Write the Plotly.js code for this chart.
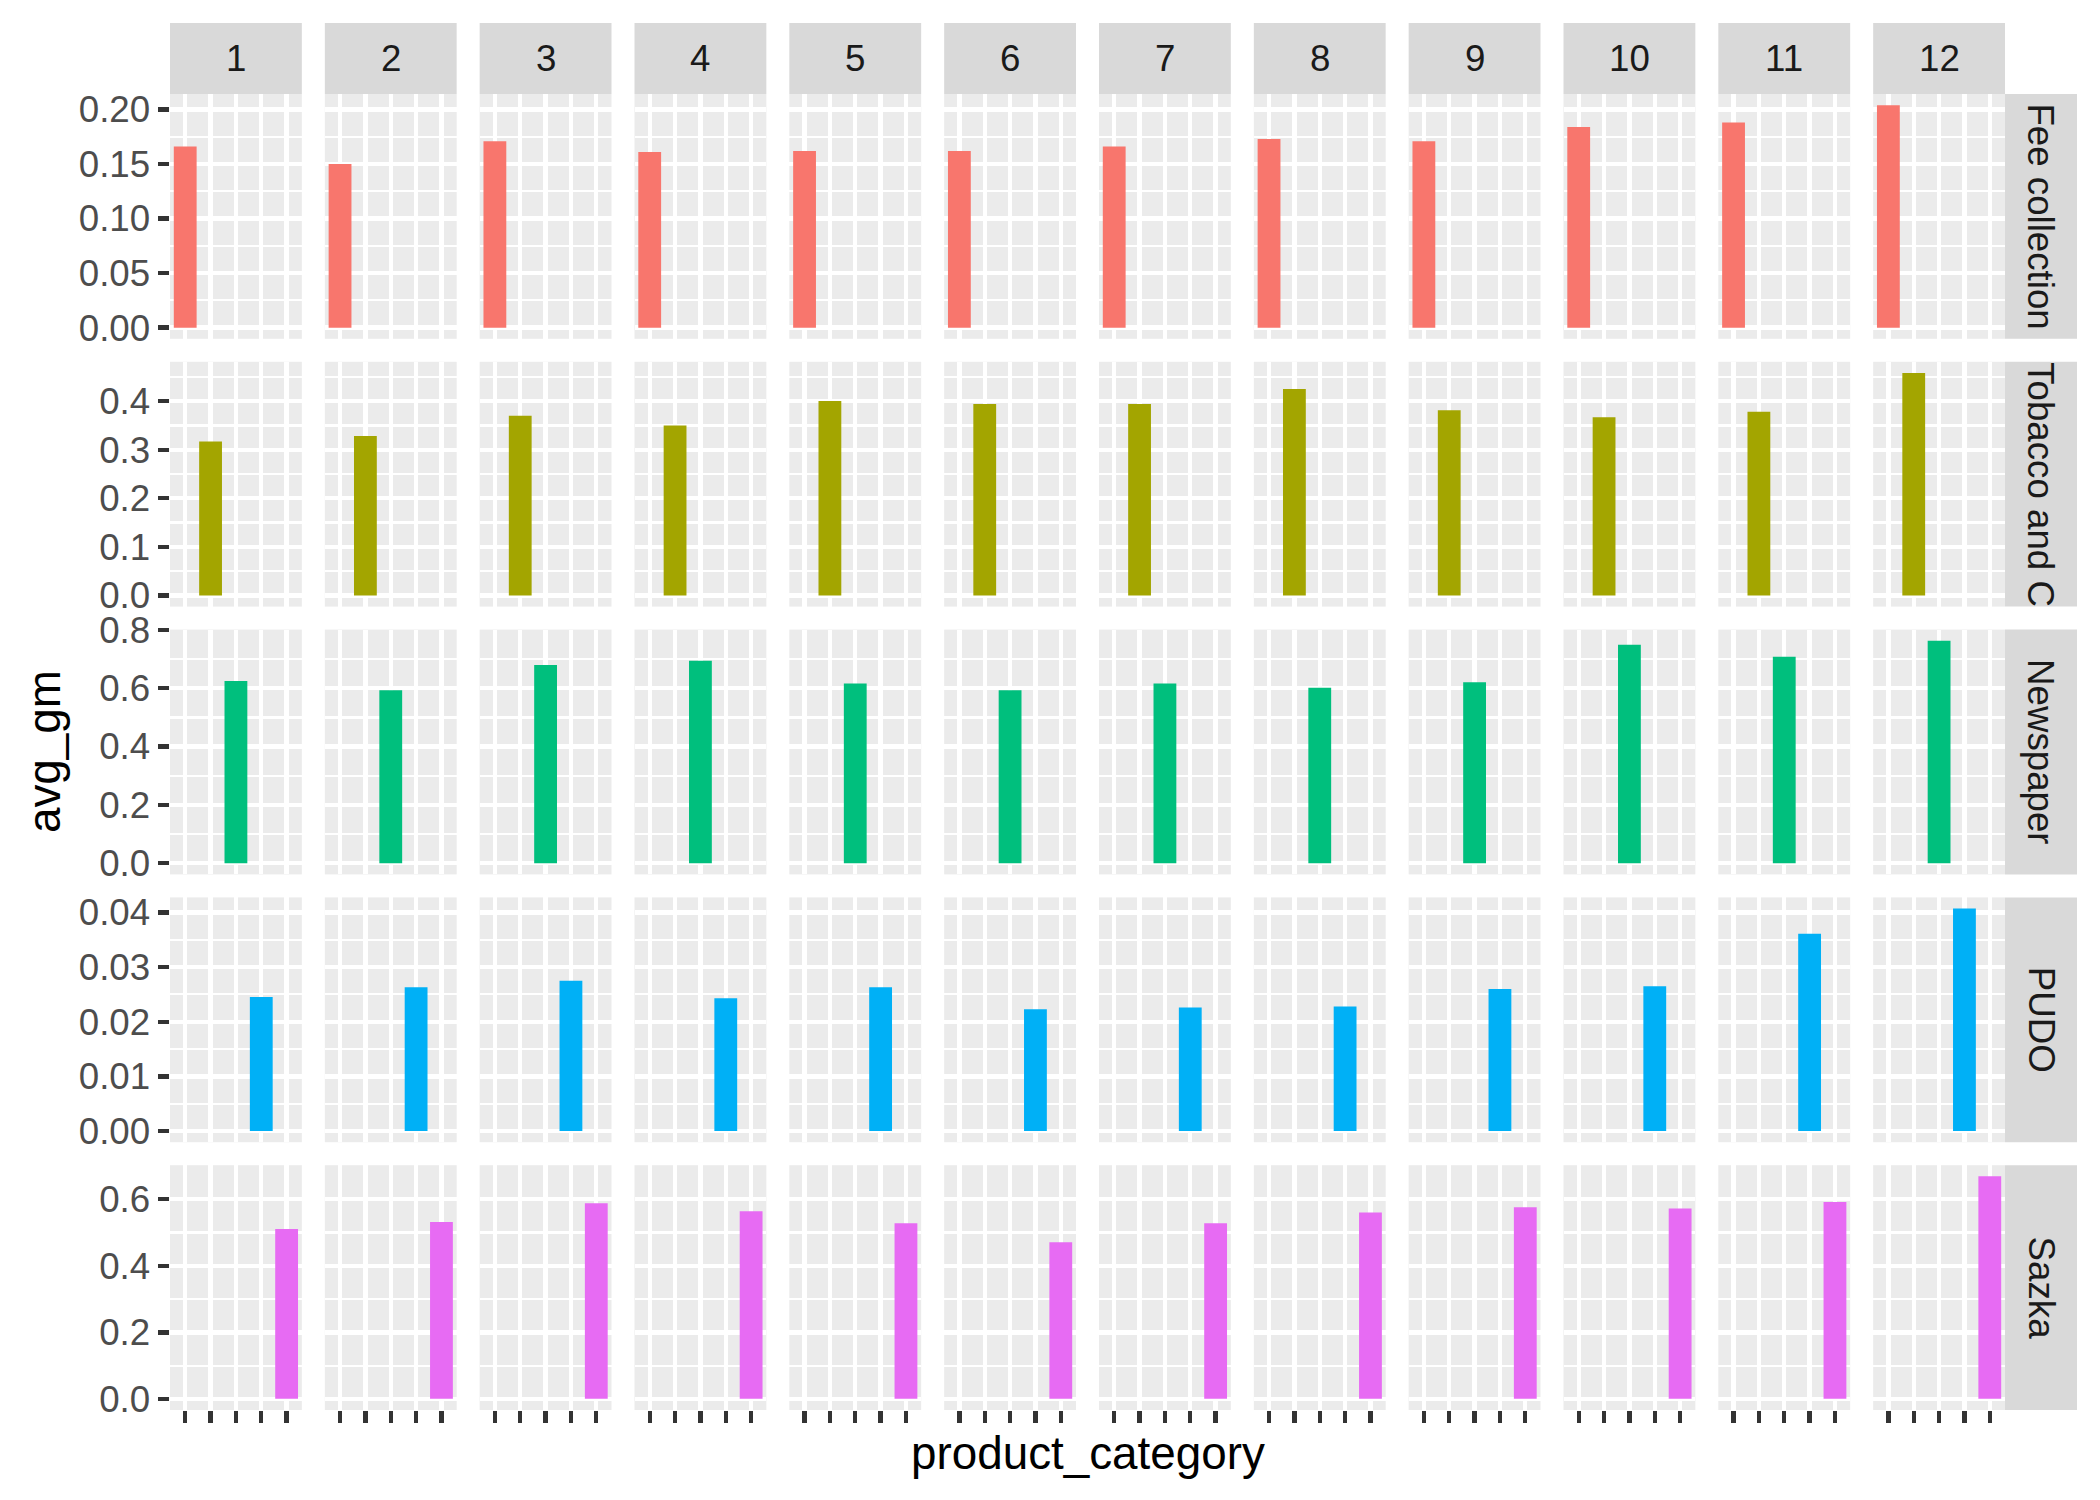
<!DOCTYPE html>
<html>
<head>
<meta charset="utf-8">
<script src="https://cdn.plot.ly/plotly-3.0.1.min.js"></script>
<style>html,body{margin:0;padding:0;background:#fff;}</style>
</head>
<body>
<div id="chart" style="width:2100px;height:1500px;"></div>
<script>
// ---- data ----
var months = ['1','2','3','4','5','6','7','8','9','10','11','12'];
var categories = ['Fee collection','Tobacco and C','Newspaper','PUDO','Sazka'];
var stripLabels = ['Fee collection','Tobacco and C','Newspaper','PUDO','Sazka'];
var feeCollection = [0.166,0.150,0.171,0.161,0.162,0.162,0.166,0.173,0.171,0.184,0.188,0.204];
var tobacco       = [0.317,0.328,0.370,0.350,0.400,0.394,0.394,0.425,0.381,0.367,0.378,0.458];
var newspaper     = [0.625,0.593,0.680,0.694,0.616,0.593,0.616,0.602,0.621,0.749,0.708,0.763];
var pudo          = [0.0245,0.0263,0.0275,0.0243,0.0263,0.0223,0.0226,0.0228,0.0260,0.0265,0.0361,0.0407];
var sazka         = [0.511,0.532,0.588,0.564,0.528,0.471,0.528,0.560,0.576,0.572,0.592,0.669];
var rowValues = [feeCollection, tobacco, newspaper, pudo, sazka];
var colors = ['#F8766D','#A3A500','#00BF7D','#00B0F6','#E76BF3'];
var yDtick = [0.05, 0.1, 0.2, 0.01, 0.2];
var yFormat = ['.2f','.1f','.1f','.2f','.1f'];

(function(){
// ---- layout geometry (pixels) ----
var W = 2100, H = 1500;
var mL = 170, mR = 95, mT = 94, mB = 90;
var plotW = W - mL - mR, plotH = H - mT - mB;
var gap = 23;
var nC = 12, nR = 5;
var pw = (plotW - (nC-1)*gap)/nC;
var ph = (plotH - (nR-1)*gap)/nR;
function px2x(p){ return (p - mL)/plotW; }
function px2y(p){ return (H - mB - p)/plotH; }

var FONT = 'Liberation Sans, Arial, sans-serif';
var tickFontSize = 36.7;
var titleFontSize = 45.8;
var majorW = 4.4, minorW = 2.2;

var traces = [];
var layout = {
  width: W, height: H,
  margin: {l: mL, r: mR, t: mT, b: mB, pad: 0},
  paper_bgcolor: '#FFFFFF',
  plot_bgcolor: '#EBEBEB',
  showlegend: false,
  font: {family: FONT, color: '#4D4D4D', size: tickFontSize},
  shapes: [],
  annotations: []
};

for (var c = 0; c < nC; c++) {
  var xName = 'xaxis' + (c ? c+1 : '');
  var colLeft = c*(pw+gap);
  layout[xName] = {
    domain: [colLeft/plotW, (colLeft+pw)/plotW],
    anchor: 'y' + (nR),
    type: 'category',
    categoryorder: 'array',
    categoryarray: categories,
    tickvals: categories,
    range: [-0.6, 4.6],
    showticklabels: false,
    ticks: 'outside',
    ticklen: 11.5,
    tickwidth: majorW,
    tickcolor: '#333333',
    showgrid: true,
    gridcolor: '#FFFFFF',
    gridwidth: majorW,
    zeroline: false,
    showline: false,
    fixedrange: true
  };
  layout.shapes.push({
    type: 'rect', xref: 'paper', yref: 'paper', layer: 'below',
    x0: colLeft/plotW, x1: (colLeft+pw)/plotW, y0: 1, y1: px2y(23),
    fillcolor: '#D9D9D9', line: {width: 0}
  });
  layout.annotations.push({
    xref: 'paper', yref: 'paper', x: (colLeft+pw/2)/plotW, y: px2y(58.5),
    text: months[c], showarrow: false, xanchor: 'center', yanchor: 'middle',
    font: {family: FONT, size: tickFontSize, color: '#1A1A1A'}
  });
}

for (var r = 0; r < nR; r++) {
  var yName = 'yaxis' + (r ? r+1 : '');
  var rowTop = r*(ph+gap);
  var vals = rowValues[r];
  var vmax = Math.max.apply(null, vals);
  var ex = vmax*0.05;
  layout[yName] = {
    domain: [1 - (rowTop+ph)/plotH, 1 - rowTop/plotH],
    anchor: 'x',
    range: [-ex, vmax + ex],
    tick0: 0,
    dtick: yDtick[r],
    tickformat: yFormat[r],
    ticks: 'outside',
    ticklen: 11.5,
    tickwidth: majorW,
    tickcolor: '#333333',
    tickfont: {family: FONT, size: tickFontSize, color: '#4D4D4D'},
    showgrid: true,
    gridcolor: '#FFFFFF',
    gridwidth: majorW,
    minor: {tick0: 0, dtick: yDtick[r]/2, showgrid: true, gridcolor: '#FFFFFF', gridwidth: minorW, ticks: ''},
    zeroline: false,
    showline: false,
    fixedrange: true
  };
  layout.shapes.push({
    type: 'rect', xref: 'paper', yref: 'paper', layer: 'below',
    x0: 1, x1: px2x(2077),
    y0: 1 - (rowTop+ph)/plotH, y1: 1 - rowTop/plotH,
    fillcolor: '#D9D9D9', line: {width: 0}
  });
  layout.annotations.push({
    xref: 'paper', yref: 'paper', x: px2x(2041), y: 1 - (rowTop+ph/2)/plotH,
    text: stripLabels[r], showarrow: false, textangle: 90,
    xanchor: 'center', yanchor: 'middle',
    font: {family: FONT, size: tickFontSize, color: '#1A1A1A'}
  });
  for (var c2 = 0; c2 < nC; c2++) {
    traces.push({
      type: 'bar',
      x: [categories[r]],
      y: [vals[c2]],
      width: 0.9,
      marker: {color: colors[r], line: {width: 0}},
      xaxis: 'x' + (c2 ? c2+1 : ''),
      yaxis: 'y' + (r ? r+1 : ''),
      hoverinfo: 'skip'
    });
  }
}

layout.annotations.push({
  xref: 'paper', yref: 'paper', x: 0.5, y: px2y(1453),
  text: 'product_category', showarrow: false, xanchor: 'center', yanchor: 'middle',
  font: {family: FONT, size: titleFontSize, color: '#000000'}
});
layout.annotations.push({
  xref: 'paper', yref: 'paper', x: px2x(44), y: 0.5,
  text: 'avg_gm', showarrow: false, textangle: -90, xanchor: 'center', yanchor: 'middle',
  font: {family: FONT, size: titleFontSize, color: '#000000'}
});

Plotly.newPlot('chart', traces, layout, {staticPlot: true, displayModeBar: false});
})();
</script>
</body>
</html>
